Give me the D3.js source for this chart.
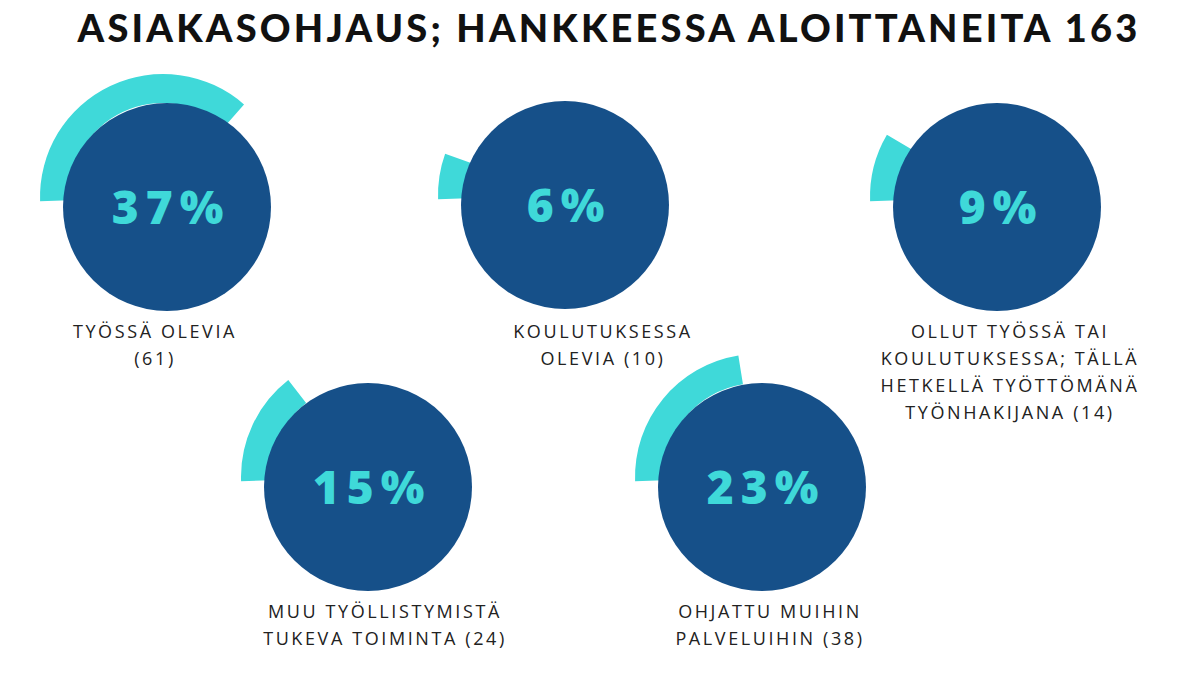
<!DOCTYPE html><html><head><meta charset="utf-8">
<script src="https://cdn.jsdelivr.net/npm/d3@7"></script>
<style>body{margin:0;background:#fff}</style></head><body>
<svg id="c" width="1200" height="675"></svg>
<script>
const title = "ASIAKASOHJAUS; HANKKEESSA ALOITTANEITA 163";
const percents = [37, 6, 9, 15, 23];
const labels = [
  ["TYÖSSÄ OLEVIA","(61)"],
  ["KOULUTUKSESSA","OLEVIA (10)"],
  ["OLLUT TYÖSSÄ TAI","KOULUTUKSESSA; TÄLLÄ","HETKELLÄ TYÖTTÖMÄNÄ","TYÖNHAKIJANA (14)"],
  ["MUU TYÖLLISTYMISTÄ","TUKEVA TOIMINTA (24)"],
  ["OHJATTU MUIHIN","PALVELUIHIN (38)"]
];
const layout = [
  {cx:167,cy:207,lx:155},{cx:565,cy:205,lx:603},{cx:997,cy:207,lx:1010},
  {cx:368,cy:487,lx:385},{cx:762,cy:487,lx:770}
];
const labelY = [330,330,330,610,610];
const svg = d3.select("#c");
svg.append("text").attr("x",609).attr("y",42).attr("text-anchor","middle")
  .attr("font-family","Lato, 'DejaVu Sans', sans-serif").attr("font-weight",900)
  .attr("font-size",38).attr("letter-spacing",3.2).attr("fill","#111").text(title);
const r = 104;
const ang = d3.scaleLinear().domain([0,100]).range([0,2*Math.PI]);
const arc = d3.arc().innerRadius(r-10).outerRadius(r+19);
percents.forEach((p,i)=>{
  const L = layout[i];
  const g = svg.append("g");
  const start = -92*Math.PI/180;
  g.append("path").attr("transform",`translate(${L.cx-4},${L.cy-10})`)
    .attr("d",arc({startAngle:start,endAngle:start+ang(p)})).attr("fill","#3fd9d9");
  g.append("circle").attr("cx",L.cx).attr("cy",L.cy).attr("r",r).attr("fill","#165089");
  g.append("text").attr("x",L.cx+4).attr("y",L.cy+17).attr("text-anchor","middle")
    .attr("font-family","'Open Sans', sans-serif").attr("font-weight",800)
    .attr("font-size",46).attr("letter-spacing",7).attr("fill","#3fd9d9").text(p+"%");
  labels[i].forEach((t,j)=>{
    svg.append("text").attr("x",L.lx).attr("y",labelY[i]+8+j*27).attr("text-anchor","middle")
      .attr("font-family","'Open Sans', sans-serif").attr("font-size",18)
      .attr("letter-spacing",2.6).attr("fill","#222").text(t);
  });
});
</script></body></html>
